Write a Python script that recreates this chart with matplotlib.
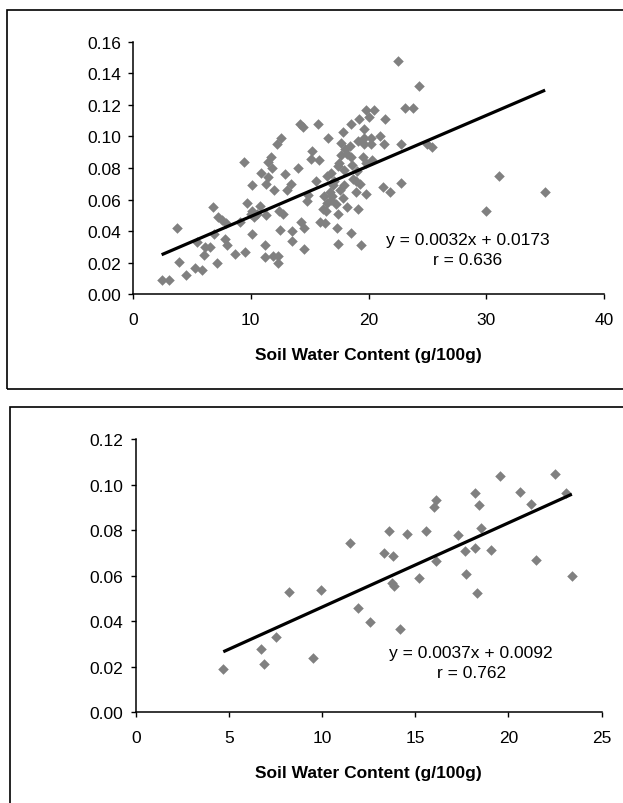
#!/usr/bin/env python
# -*- coding: utf-8 -*-

import matplotlib
matplotlib.use("Agg")
import matplotlib.pyplot as plt
from matplotlib.patches import Rectangle
import numpy as np


# Data__________________________________________________________________________

# top panel: soil water content (g/100g) vs. value
swc_top = [
    2.43, 3.08, 3.75, 3.9, 4.48, 5.3, 5.9, 5.4, 6.1, 6.5, 6.0, 7.1, 6.8, 7.2,
    7.6, 7.9, 6.9, 7.8, 8.0, 8.7, 9.5, 9.1, 9.4, 9.7, 10.1, 10.1, 10.3, 10.0,
    10.1, 10.5, 10.9, 11.2, 11.2, 11.5, 11.7, 11.8, 11.3, 11.9, 12.3, 12.3,
    12.0, 12.2, 12.6, 12.4, 12.7, 12.5, 12.9, 13.4, 13.5, 13.5, 14.0, 14.2,
    14.4, 14.3, 14.5, 14.5, 14.8, 15.2, 15.1, 15.5, 15.7, 15.8, 15.9, 16.3,
    16.1, 16.6, 16.4, 16.5, 16.8, 16.7, 17.0, 16.5, 16.8, 17.4, 17.3, 17.4,
    17.4, 17.7, 18.0, 17.7, 17.8, 18.2, 18.5, 18.2, 18.5, 18.5, 19.2, 18.7,
    18.9, 18.9, 19.1, 19.4, 17.9, 17.5, 18.4, 17.8, 16.9, 17.2, 17.6, 17.1,
    16.2, 17.9, 18.6, 19.0, 11.5, 13.1, 14.9, 10.8, 11.3,
    22.5, 24.3, 23.1, 23.8, 19.8, 20.5, 20.05, 21.4, 19.6, 19.1, 19.6, 20.2,
    21.0, 19.6, 20.2, 21.3, 22.8, 25.0, 25.4, 19.5, 20.3, 19.8, 19.3, 21.2,
    21.8, 22.8, 19.8, 31.1, 35.0, 30.0,
]
val_top = [
    0.0093, 0.0093, 0.0418, 0.0203, 0.0122, 0.0165, 0.0156, 0.033, 0.030,
    0.030, 0.025, 0.020, 0.0555, 0.049, 0.047, 0.045, 0.038, 0.035, 0.031,
    0.0255, 0.027, 0.0456, 0.084, 0.058, 0.069, 0.053, 0.049, 0.051, 0.038,
    0.051, 0.077, 0.031, 0.0234, 0.084, 0.087, 0.080, 0.070, 0.024, 0.0245,
    0.020, 0.066, 0.095, 0.099, 0.053, 0.051, 0.041, 0.076, 0.070, 0.040,
    0.0336, 0.080, 0.108, 0.106, 0.046, 0.042, 0.029, 0.059, 0.091, 0.086,
    0.072, 0.108, 0.085, 0.046, 0.045, 0.054, 0.099, 0.053, 0.058, 0.060,
    0.065, 0.069, 0.075, 0.077, 0.032, 0.042, 0.051, 0.081, 0.088, 0.092,
    0.096, 0.103, 0.089, 0.087, 0.055, 0.039, 0.108, 0.111, 0.073, 0.072,
    0.065, 0.054, 0.031, 0.079, 0.083, 0.094, 0.061, 0.062, 0.057, 0.066,
    0.072, 0.062, 0.069, 0.082, 0.078, 0.074, 0.066, 0.063, 0.056, 0.050,
    0.148, 0.132, 0.118, 0.118, 0.117, 0.117, 0.112, 0.111, 0.105, 0.097,
    0.099, 0.099, 0.100, 0.095, 0.095, 0.095, 0.095, 0.095, 0.093, 0.087,
    0.085, 0.083, 0.070, 0.068, 0.065, 0.0705, 0.0635, 0.075, 0.0646, 0.053,
]

# bottom panel
swc_bot = [
    4.7, 6.7, 6.9, 7.55, 8.2, 9.5, 9.96, 11.5, 11.9, 12.55, 14.2, 13.3, 13.8,
    13.6, 14.55, 13.75, 13.85, 15.2, 15.6, 16.1, 16.0, 16.1, 17.3, 17.65,
    17.7, 18.2, 18.4, 18.2, 18.5, 18.3, 19.05, 19.55, 20.6, 21.2, 21.45,
    22.5, 23.1, 23.4,
]
val_bot = [
    0.019, 0.028, 0.0212, 0.0332, 0.053, 0.024, 0.0537, 0.0742, 0.0458,
    0.0395, 0.0366, 0.070, 0.0685, 0.0798, 0.0783, 0.0566, 0.0553, 0.0588,
    0.0798, 0.0932, 0.0903, 0.0663, 0.0779, 0.0707, 0.0607, 0.0962, 0.091,
    0.0721, 0.0808, 0.0522, 0.0714, 0.1039, 0.0966, 0.0915, 0.067, 0.1046,
    0.0962, 0.060,
]

# linear fits as printed on the chart
fit_top = (0.0032, 0.0173, 0.636)
fit_bot = (0.0037, 0.0092, 0.762)

xticks_top = [0, 10, 20, 30, 40]
yticks_top = [0.00, 0.02, 0.04, 0.06, 0.08, 0.10, 0.12, 0.14, 0.16]
xticks_bot = [0, 5, 10, 15, 20, 25]
yticks_bot = [0.00, 0.02, 0.04, 0.06, 0.08, 0.10, 0.12]

xlabel = 'Soil Water Content (g/100g)'


# Functions_____________________________________________________________________

def draw_panel(ax, x, y, fit, xticks, yticks, text_xy):
    slope, icpt, r = fit

    # grey diamonds
    ax.scatter(x, y, marker='D', s=29, color='#808080', linewidths=0,
               zorder=2)

    # trend line over the data range
    xl = np.array([min(x), max(x)])
    ax.plot(xl, slope * xl + icpt, color='black', lw=2.3, zorder=3,
            solid_capstyle='butt')

    ax.text(text_xy[0], text_xy[1], 'y = %.4fx + %.4f\nr = %.3f'
            % (slope, icpt, r), ha='center', va='center', fontsize=12.5,
            linespacing=1.45)

    ax.set_xlim(xticks[0], xticks[-1])
    ax.set_ylim(yticks[0], yticks[-1])
    ax.set_xticks(xticks)
    ax.set_yticks(yticks)
    ax.set_yticklabels(['%.2f' % v for v in yticks])

    # Excel look: only left and bottom axis lines
    ax.spines['top'].set_visible(False)
    ax.spines['right'].set_visible(False)
    for s in ('left', 'bottom'):
        ax.spines[s].set_linewidth(1.1)
    ax.tick_params(direction='out', length=3.8, width=1.0, labelsize=12.5)
    ax.tick_params(axis='x', pad=9)
    ax.tick_params(axis='y', pad=5)
    ax.set_xlabel(xlabel, fontsize=12.5, fontweight='bold', labelpad=14)


def main():
    plt.rcParams['font.family'] = ['Liberation Sans', 'DejaVu Sans']

    fig = plt.figure(figsize=(6.23, 8.04), dpi=100)

    ax1 = fig.add_axes([0.2135, 0.6327, 0.756, 0.3142])
    ax2 = fig.add_axes([0.2178, 0.1128, 0.748, 0.3399])

    draw_panel(ax1, swc_top, val_top, fit_top, xticks_top, yticks_top,
               (28.4, 0.0285))
    draw_panel(ax2, swc_bot, val_bot, fit_bot, xticks_bot, yticks_bot,
               (18.0, 0.022))

    # chart-area frames
    fig.patches.append(Rectangle((0.0108, 0.5155), 1.2, 0.4708,
                                 transform=fig.transFigure, fill=False,
                                 lw=1.2, ec='black'))
    fig.patches.append(Rectangle((0.016, -0.2), 1.2, 0.6925,
                                 transform=fig.transFigure, fill=False,
                                 lw=1.2, ec='black'))

    fig.savefig('out.png', dpi=100)


if __name__ == "__main__":
    main()
